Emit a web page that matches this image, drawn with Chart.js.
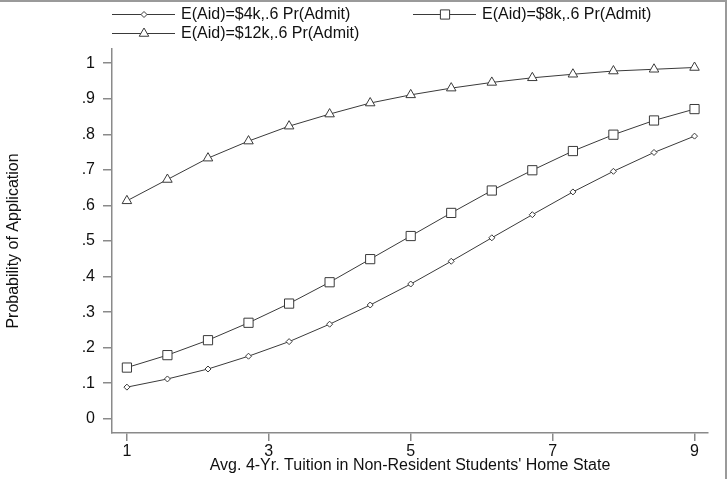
<!DOCTYPE html>
<html>
<head>
<meta charset="utf-8">
<script src="https://cdn.jsdelivr.net/npm/chart.js@4/dist/chart.umd.min.js"></script>
<style>
  html,body{margin:0;padding:0;background:#fff;}
  #wrap{width:728px;height:479px;}
</style>
</head>
<body>
<div id="wrap"><canvas id="c" width="728" height="479"></canvas></div>
<script>
// tuition values (x) shared by all three curves
const tuition = [1, 1.571, 2.143, 2.714, 3.286, 3.857, 4.429, 5, 5.571, 6.143, 6.714, 7.286, 7.857, 8.429, 9];
const aid4k  = [0.089, 0.112, 0.140, 0.176, 0.217, 0.266, 0.320, 0.379, 0.443, 0.509, 0.574, 0.638, 0.696, 0.749, 0.795];
const aid8k  = [0.144, 0.179, 0.221, 0.270, 0.324, 0.384, 0.449, 0.514, 0.579, 0.642, 0.699, 0.753, 0.799, 0.839, 0.871];
const aid12k = [0.613, 0.673, 0.733, 0.781, 0.823, 0.857, 0.888, 0.911, 0.930, 0.946, 0.959, 0.969, 0.978, 0.983, 0.988];
const seriesLabels = ['E(Aid)=$4k,.6 Pr(Admit)', 'E(Aid)=$8k,.6 Pr(Admit)', 'E(Aid)=$12k,.6 Pr(Admit)'];
const xTicks = [1, 3, 5, 7, 9];
const yTicks = [0, .1, .2, .3, .4, .5, .6, .7, .8, .9, 1];
const yTickLabels = ['0', '.1', '.2', '.3', '.4', '.5', '.6', '.7', '.8', '.9', '1'];

const FONT = "'Liberation Sans', Arial, Helvetica, sans-serif";
const INK = '#3a3a3a', AXIS = '#8a8a8a', TXT = '#111';

const pts = arr => arr.map((v,i)=>({x: tuition[i], y: v}));
const mk = (label, data, style, r) => ({
  label, data: pts(data), borderColor: INK, borderWidth: 1, tension: 0,
  pointStyle: style, pointRadius: r, pointHoverRadius: r,
  pointBorderColor: INK, pointBackgroundColor: '#fff', pointBorderWidth: 1, fill: false
});

// legend drawn by hand: two columns, stata style
const legendPlugin = {
  id: 'stataLegend',
  afterDraw(chart){
    const ctx = chart.ctx;
    const slots = [[112, 14], [413, 14], [112, 33]];
    ctx.save();
    chart.data.datasets.forEach((ds, i)=>{
      const [x0, y] = slots[i];
      ctx.strokeStyle = INK; ctx.lineWidth = 1;
      ctx.beginPath(); ctx.moveTo(x0, y+0.5); ctx.lineTo(x0+63, y+0.5); ctx.stroke();
      drawMark(ctx, ds.pointStyle, ds.pointRadius, x0+32, y+0.5);
      ctx.fillStyle = TXT; ctx.font = '16px ' + FONT;
      ctx.textBaseline = 'middle'; ctx.textAlign = 'left';
      ctx.fillText(ds.label, x0+69, y+1);
    });
    // outer frame (top and right only)
    ctx.strokeStyle = '#9a9a9a'; ctx.lineWidth = 2;
    ctx.beginPath(); ctx.moveTo(0, 1); ctx.lineTo(726, 1); ctx.lineTo(726, 479); ctx.stroke();
    ctx.restore();
  }
};

function drawMark(ctx, style, r, x, y){
  ctx.beginPath();
  if (style === 'rect'){
    const s = r*Math.SQRT1_2; ctx.rect(x-s, y-s, 2*s, 2*s);
  } else if (style === 'triangle'){
    ctx.moveTo(x, y-r);
    ctx.lineTo(x+r*Math.sin(Math.PI*2/3), y-r*Math.cos(Math.PI*2/3));
    ctx.lineTo(x-r*Math.sin(Math.PI*2/3), y-r*Math.cos(Math.PI*2/3));
    ctx.closePath();
  } else {
    ctx.moveTo(x, y-r); ctx.lineTo(x+r, y); ctx.lineTo(x, y+r); ctx.lineTo(x-r, y); ctx.closePath();
  }
  ctx.fillStyle = '#fff'; ctx.fill();
  ctx.strokeStyle = INK; ctx.lineWidth = 1; ctx.stroke();
}

new Chart(document.getElementById('c'), {
  type: 'line',
  data: {
    datasets: [
      mk(seriesLabels[0], aid4k, 'rectRot', 3),
      mk(seriesLabels[1], aid8k, 'rect', 6.5),
      mk(seriesLabels[2], aid12k, 'triangle', 5.5)
    ]
  },
  options: {
    responsive: false, animation: false,
    layout: { padding: { top: 49, right: 20, left: 0, bottom: 0 } },
    plugins: { legend: { display: false }, tooltip: { enabled: false } },
    scales: {
      x: {
        type: 'linear', min: 0.79, max: 9.19,
        afterFit: s => { s.height = 46; },
        afterBuildTicks: s => { s.ticks = xTicks.map(v=>({value: v})); },
        grid: { drawOnChartArea: false, drawTicks: true, tickLength: 8, color: AXIS, lineWidth: 1.5 },
        border: { display: true, color: AXIS, width: 1.5 },
        ticks: { color: TXT, font: { family: FONT, size: 16 }, padding: 1, maxRotation: 0,
                 callback: v => String(v) },
        title: { display: true, text: "Avg. 4-Yr. Tuition in Non-Resident Students' Home State",
                 color: TXT, font: { family: FONT, size: 16 }, padding: { top: 0, bottom: 4 } }
      },
      y: {
        min: -0.04, max: 1.04,
        afterFit: s => { s.width = 112; },
        afterBuildTicks: s => { s.ticks = yTicks.map(v=>({value: v})); },
        grid: { drawOnChartArea: false, drawTicks: true, tickLength: 9, color: AXIS, lineWidth: 1.5 },
        border: { display: true, color: AXIS, width: 1.5 },
        ticks: { color: TXT, font: { family: FONT, size: 16 }, padding: 8,
                 callback: v => yTickLabels[yTicks.findIndex(t => Math.abs(t - v) < 1e-6)] ?? '' },
        title: { display: true, text: 'Probability of Application',
                 color: TXT, font: { family: FONT, size: 16 }, padding: { top: 4, bottom: 0 } }
      }
    }
  },
  plugins: [legendPlugin]
});
</script>
</body>
</html>
